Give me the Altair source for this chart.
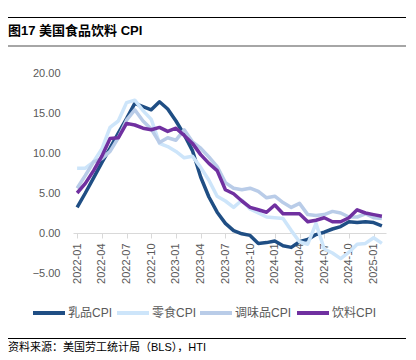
import altair as alt
import pandas as pd

months = [f"{y}-{m:02d}" for y in range(2022, 2026) for m in range(1, 13)][:38]
tick_labels = ["2022-01", "2022-04", "2022-07", "2022-10", "2023-01", "2023-04", "2023-07",
               "2023-10", "2024-01", "2024-04", "2024-07", "2024-10", "2025-01"]
series_names = ["乳品CPI", "零食CPI", "调味品CPI", "饮料CPI"]
series_colors = ["#1F4E84", "#CDE5FA", "#B9CCE8", "#7030A0"]
legend_x = [-40, 44, 127, 224]  # legend swatch left edges (layout only)

dairy = [3.2, 5.0, 6.9, 8.8, 10.6, 12.5, 14.3, 16.2, 15.8, 15.4, 16.4, 15.5, 14.0, 12.3, 10.3, 7.0,
         4.5, 2.6, 1.2, 0.3, -0.1, -0.3, -1.3, -1.2, -1.0, -1.6, -1.8, -1.1, -0.8, -0.2, 0.1, 0.5,
         0.8, 1.4, 1.3, 1.4, 1.3, 0.9]
snacks = [8.1, 8.1, 8.9, 10.5, 13.2, 14.0, 16.3, 16.6, 15.3, 14.2, 11.2, 10.8, 10.2, 9.4, 9.6, 8.2,
          6.6, 4.6, 4.0, 3.2, 4.1, 3.0, 2.5, 2.0, 1.9, 1.8, 0.3, -1.1, -1.4, 1.2, -2.0, -2.5,
          -3.2, -2.4, -1.4, -1.3, -0.6, -1.3]
condiments = [5.6, 7.2, 8.9, 9.3, 10.2, 11.9, 14.1, 15.4, 14.0, 13.0, 11.3, 11.9, 11.6, 12.9, 11.4, 10.6,
              9.5, 8.3, 6.3, 5.6, 5.4, 5.6, 5.2, 4.4, 4.6, 3.8, 3.2, 3.7, 2.3, 2.2, 2.3, 2.7,
              2.5, 2.0, 2.0, 2.4, 1.9, 1.8]
beverages = [5.0, 6.2, 7.8, 9.6, 11.8, 11.9, 13.7, 13.5, 13.1, 12.9, 13.2, 12.7, 13.1, 12.2, 11.2, 9.8,
             8.7, 7.8, 5.4, 4.9, 4.0, 3.2, 2.9, 2.6, 3.5, 2.4, 2.4, 2.4, 1.4, 1.6, 1.9, 1.4,
             1.4, 1.9, 2.9, 2.5, 2.3, 2.1]

title_text = "图17 美国食品饮料 CPI"
source_text = "资料来源：美国劳工统计局（BLS），HTI"

rows = []
for name, vals in zip(series_names, [dairy, snacks, condiments, beverages]):
    for m, v in zip(months, vals):
        rows.append({"month": m, "value": v, "series": name})
df = pd.DataFrame(rows)

FONT = "Liberation Sans, Noto Sans CJK SC"
LABEL = "#595959"

lines = alt.Chart(df).mark_line(strokeWidth=3.5, strokeJoin="round").encode(
    x=alt.X("month:O", sort=months,
            scale=alt.Scale(type="point", padding=0.5),
            axis=alt.Axis(title=None, values=tick_labels, labelAngle=-90, offset=-40,
                          domainColor="#D9D9D9", tickColor="#D9D9D9", tickSize=5,
                          labelPadding=5, labelColor=LABEL, labelFontSize=11, labelFont=FONT,
                          grid=False)),
    y=alt.Y("value:Q", scale=alt.Scale(domain=[-5, 20], nice=False),
            axis=alt.Axis(title=None, values=[-5, 0, 5, 10, 15, 20], format=".2f",
                          domain=False, ticks=False, grid=False, labelPadding=13,
                          labelColor=LABEL, labelFontSize=11, labelFont=FONT)),
    color=alt.Color("series:N", sort=series_names,
                    scale=alt.Scale(domain=series_names, range=series_colors),
                    legend=None),
    order=alt.Order("month:O"),
)

one = pd.DataFrame({"k": [0]})
deco = alt.Chart(one)
layers = [lines]
LEG_Y = 240
for name, color, lx in zip(series_names, series_colors, legend_x):
    layers.append(deco.mark_rule(color=color, strokeWidth=4).encode(
        x=alt.value(lx), x2=alt.value(lx + 32), y=alt.value(LEG_Y)))
    layers.append(deco.mark_text(align="left", baseline="middle", fontSize=12,
                                 font=FONT, color=LABEL).encode(
        x=alt.value(lx + 35), y=alt.value(LEG_Y), text=alt.value(name)))

layers.append(deco.mark_rule(color="#000000", strokeWidth=1).encode(
    x=alt.value(-65), x2=alt.value(333), y=alt.value(-55.5)))
layers.append(deco.mark_rule(color="#A6A6A6", strokeWidth=2).encode(
    x=alt.value(-65), x2=alt.value(333), y=alt.value(-27)))
layers.append(deco.mark_rule(color="#000000", strokeWidth=1).encode(
    x=alt.value(-65), x2=alt.value(333), y=alt.value(265.5)))
layers.append(deco.mark_text(align="left", baseline="middle", fontSize=13, fontWeight="bold",
                             font=FONT, color="#000000").encode(
    x=alt.value(-65), y=alt.value(-42), text=alt.value(title_text)))
layers.append(deco.mark_text(align="left", baseline="middle", fontSize=11,
                             font=FONT, color="#000000").encode(
    x=alt.value(-65), y=alt.value(275), text=alt.value(source_text)))

chart = alt.layer(*layers).properties(
    width=313, height=200,
    autosize=alt.AutoSizeParams(type="none"),
    padding={"left": 65, "top": 65, "right": 22, "bottom": 79},
).configure_view(stroke=None)

chart.save("out.html", embed_options={"renderer": "svg", "actions": False})
